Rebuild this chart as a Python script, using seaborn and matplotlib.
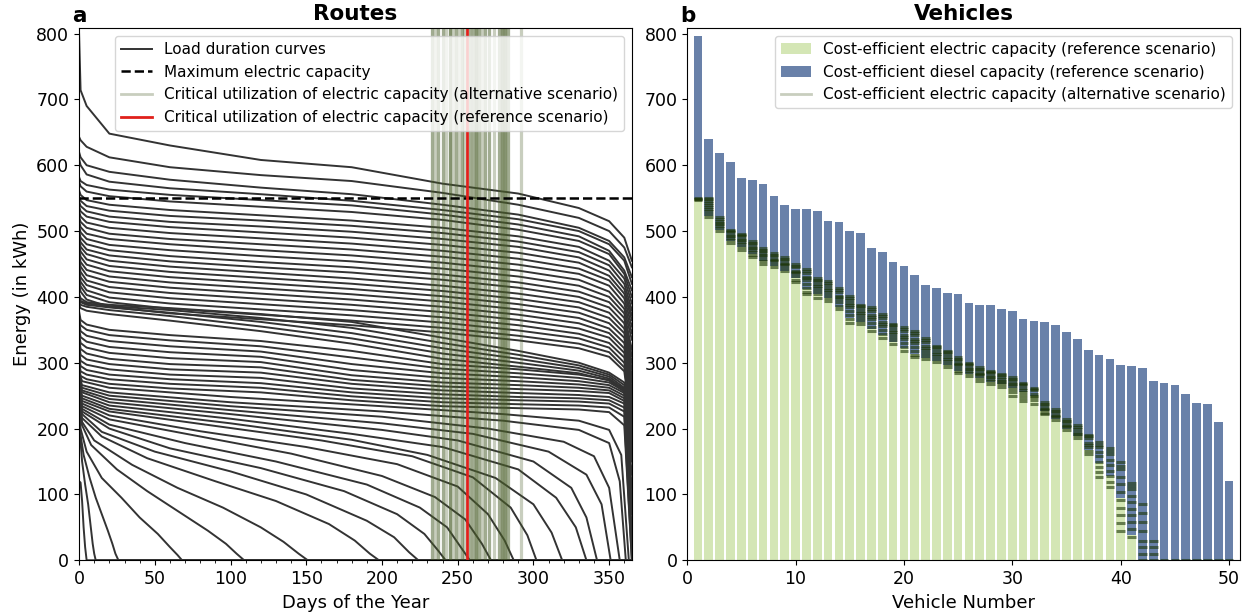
import numpy as np
import pandas as pd
import matplotlib
matplotlib.use("Agg")
import matplotlib.pyplot as plt
from matplotlib.lines import Line2D
from matplotlib.patches import Patch
from matplotlib.ticker import MultipleLocator
import seaborn as sns

# ---------------- panel a: load duration curves (energy read at these days) ----------------
DAYS = [0, 1, 5, 20, 60, 120, 180, 240, 290, 330, 350, 360, 365]

UPPER_ROUTES = [
    [800, 714, 690, 648, 630, 608, 597, 572, 557, 535, 515, 490, 455],
    [643, 638, 628, 612, 597, 585, 576, 558, 540, 520, 500, 475, 445],
    [620, 612, 600, 590, 578, 566, 556, 540, 525, 505, 485, 460, 430],
    [610, 600, 586, 575, 565, 556, 546, 532, 518, 500, 480, 455, 420],
    [582, 576, 570, 563, 555, 547, 539, 525, 510, 492, 470, 440, 410],
    [575, 568, 560, 553, 545, 537, 529, 517, 502, 485, 465, 435, 400],
    [562, 555, 547, 540, 532, 524, 516, 505, 492, 476, 455, 428, 390],
    [553, 546, 538, 531, 523, 516, 508, 497, 484, 468, 448, 420, 380],
    [545, 538, 530, 522, 514, 507, 499, 488, 476, 460, 440, 412, 372],
    [538, 530, 522, 514, 506, 498, 490, 479, 467, 452, 432, 405, 365],
    [530, 522, 513, 505, 497, 489, 481, 470, 458, 443, 425, 398, 355],
    [522, 514, 505, 496, 488, 480, 472, 461, 449, 435, 417, 390, 345],
    [515, 506, 496, 488, 480, 471, 463, 452, 440, 426, 408, 382, 335],
    [508, 498, 488, 479, 471, 462, 454, 443, 431, 417, 400, 375, 320],
    [500, 490, 480, 471, 462, 453, 445, 434, 422, 408, 392, 368, 310],
    [494, 483, 472, 463, 454, 445, 437, 426, 414, 400, 384, 360, 300],
    [487, 476, 465, 455, 446, 437, 428, 417, 405, 392, 376, 352, 290],
    [480, 469, 457, 447, 438, 429, 420, 409, 397, 384, 368, 345, 280],
    [472, 461, 449, 439, 430, 421, 412, 401, 389, 376, 360, 338, 270],
    [465, 453, 441, 431, 422, 413, 404, 393, 381, 368, 352, 330, 260],
    [458, 446, 433, 423, 414, 405, 396, 385, 373, 360, 345, 322, 250],
    [450, 438, 425, 415, 406, 397, 388, 377, 365, 352, 338, 315, 240],
    [443, 430, 418, 407, 398, 389, 380, 369, 357, 344, 330, 308, 230],
    [436, 423, 410, 399, 390, 381, 372, 361, 349, 337, 323, 300, 220],
    [428, 416, 403, 392, 382, 373, 364, 353, 341, 329, 316, 293, 210],
    [420, 408, 396, 385, 375, 366, 357, 346, 334, 322, 309, 287, 200],
    [405, 398, 392, 388, 383, 374, 362, 338, 318, 300, 285, 270, 230],
    [400, 394, 390, 386, 380, 368, 353, 330, 312, 296, 282, 266, 210],
    [396, 392, 388, 384, 376, 362, 345, 322, 306, 292, 279, 262, 190],
    [392, 388, 385, 380, 371, 355, 337, 314, 300, 288, 276, 259, 170],
    [388, 383, 379, 374, 364, 348, 329, 306, 294, 284, 273, 256, 150],
    [378, 365, 358, 350, 342, 333, 318, 298, 290, 282, 274, 260, 200],
    [370, 357, 350, 342, 334, 325, 308, 291, 284, 277, 270, 257, 180],
    [362, 348, 341, 333, 325, 317, 298, 284, 278, 272, 266, 254, 160],
    [352, 339, 332, 324, 316, 309, 289, 277, 272, 267, 262, 250, 130],
    [345, 330, 323, 315, 307, 301, 281, 270, 266, 262, 258, 246, 110],
    [338, 321, 314, 306, 298, 293, 274, 264, 260, 257, 254, 242, 90],
    [330, 312, 305, 298, 290, 285, 268, 258, 254, 251, 248, 238, 70],
    [318, 303, 297, 290, 282, 277, 261, 252, 248, 246, 243, 232, 45],
    [310, 295, 289, 282, 275, 269, 255, 246, 243, 241, 238, 226, 20],
    [302, 287, 282, 275, 268, 262, 249, 240, 237, 235, 232, 218, 0],
    [295, 280, 275, 268, 261, 255, 243, 234, 231, 229, 225, 205, 0],
]

# routes whose demand drops to zero before the end of the year
LOWER_DAYS = [
    [0, 2, 20, 100, 200, 280, 330, 350, 358, 363],
    [0, 2, 20, 100, 200, 280, 330, 350, 357, 361],
    [0, 2, 20, 100, 200, 270, 320, 340, 350, 357],
    [0, 2, 20, 100, 200, 260, 310, 335, 345, 351],
    [0, 2, 20, 100, 200, 250, 300, 325, 335, 342],
    [0, 2, 20, 100, 180, 240, 290, 315, 328, 335],
    [0, 2, 20, 100, 180, 230, 275, 300, 312, 319],
    [0, 2, 20, 90, 160, 220, 260, 285, 296, 302],
    [0, 2, 20, 80, 150, 210, 250, 270, 281, 287],
    [0, 2, 20, 80, 140, 200, 235, 255, 266, 272],
    [0, 2, 20, 70, 130, 190, 225, 243, 252, 258],
    [0, 2, 20, 60, 120, 175, 210, 228, 237, 242],
    [0, 2, 15, 50, 100, 150, 190, 208, 218, 224],
    [0, 2, 15, 45, 90, 130, 165, 182, 192, 198],
    [0, 2, 10, 35, 65, 95, 120, 135, 145, 151],
    [0, 2, 8, 25, 45, 65, 85, 97, 104, 109],
    [0, 1, 5, 15, 28, 40, 52, 60, 65, 68],
    [0, 1, 3, 7, 11, 15, 19, 22, 24, 26],
    [0, 1, 2, 4, 6, 7, 8, 9, 10, 11],
    [0, 1, 2, 3, 4, 5],
]
LOWER_ROUTES = [
    [285, 272, 262, 248, 234, 222, 212, 198, 160, 0],
    [280, 266, 255, 240, 226, 212, 198, 178, 120, 0],
    [276, 262, 250, 234, 218, 200, 180, 158, 110, 0],
    [273, 258, 245, 228, 208, 192, 165, 130, 85, 0],
    [270, 255, 240, 222, 198, 182, 150, 110, 65, 0],
    [268, 250, 235, 215, 192, 172, 138, 95, 50, 0],
    [265, 246, 230, 208, 183, 160, 125, 85, 42, 0],
    [262, 242, 226, 204, 182, 158, 126, 80, 38, 0],
    [260, 238, 220, 196, 172, 146, 112, 70, 30, 0],
    [258, 234, 214, 188, 162, 128, 96, 62, 25, 0],
    [255, 230, 206, 178, 150, 115, 80, 50, 20, 0],
    [252, 226, 200, 170, 140, 105, 70, 40, 15, 0],
    [248, 222, 195, 165, 135, 100, 60, 35, 12, 0],
    [244, 216, 188, 155, 120, 90, 55, 30, 10, 0],
    [240, 210, 182, 145, 110, 80, 50, 28, 10, 0],
    [236, 205, 175, 138, 105, 75, 45, 25, 10, 0],
    [232, 200, 165, 125, 95, 65, 40, 20, 8, 0],
    [225, 190, 160, 125, 95, 70, 45, 25, 10, 0],
    [215, 180, 150, 115, 85, 65, 45, 25, 10, 0],
    [120, 118, 90, 50, 20, 0],
]

MAX_ELECTRIC = 550
CRIT_DAY_REF = 256
CRIT_DAYS_ALT = [233, 233, 235, 237, 237, 240, 240, 242, 245, 245, 245, 247, 249,
                 249, 251, 253, 253, 254, 258, 258, 260, 260, 262, 262, 262, 264,
                 264, 266, 268, 268, 271, 271, 274, 277, 277, 279, 279, 279, 281,
                 281, 281, 283, 283, 292]

# ---------------- panel b: vehicles ----------------
VEHICLES = list(range(1, 51))
TOTAL_CAP = [797, 640, 618, 605, 580, 577, 572, 554, 540, 533,
             533, 530, 515, 514, 500, 497, 474, 468, 453, 447,
             433, 418, 414, 406, 405, 391, 388, 388, 382, 379,
             367, 364, 362, 358, 347, 336, 320, 312, 305, 297,
             295, 292, 273, 270, 266, 253, 239, 238, 210, 121]
ELEC_CAP = [548, 523, 502, 485, 476, 465, 455, 447, 440, 428,
            412, 405, 398, 385, 368, 362, 352, 342, 332, 322,
            313, 307, 303, 296, 288, 283, 277, 271, 267, 262,
            256, 249, 226, 215, 200, 188, 168, 148, 128, 95,
            38, 0, 0, 0, 0, 0, 0, 0, 0, 0]
ALT_LEVELS = [
    [550, 549, 548, 547],
    [550, 548, 546, 542, 540, 536, 534, 530, 526, 522],
    [521, 518, 516, 512, 510, 508, 504, 500],
    [502, 500, 498, 494, 492, 490, 486, 482],
    [496, 494, 492, 488, 486, 484, 480, 476, 472],
    [485, 482, 480, 476, 474, 472, 468, 464, 460],
    [475, 472, 470, 466, 464, 462, 458, 454, 450],
    [467, 464, 462, 458, 456, 454, 450, 446],
    [460, 458, 456, 452, 450, 448, 444, 440],
    [450, 447, 445, 440, 438, 436, 432, 426, 422],
    [442, 439, 436, 430, 428, 425, 420, 414, 408, 404],
    [429, 426, 424, 419, 416, 414, 409, 404, 399],
    [424, 421, 418, 413, 410, 408, 403, 398, 394],
    [414, 411, 408, 402, 400, 397, 392, 386, 381],
    [402, 399, 396, 390, 387, 384, 378, 372, 366, 361],
    [388, 386, 383, 378, 375, 373, 368, 363, 359],
    [384, 381, 378, 372, 369, 366, 360, 354, 348],
    [374, 371, 368, 362, 359, 356, 350, 344, 338],
    [359, 357, 354, 349, 346, 344, 339, 334, 329],
    [354, 351, 348, 342, 339, 336, 330, 324, 318],
    [348, 345, 342, 336, 333, 330, 324, 318, 312, 308],
    [338, 335, 332, 326, 323, 320, 315, 310, 305],
    [326, 324, 321, 316, 314, 311, 306, 301],
    [318, 316, 313, 308, 306, 303, 298, 293],
    [308, 306, 304, 300, 298, 296, 292, 288, 285],
    [300, 298, 296, 292, 290, 288, 284, 280],
    [293, 291, 289, 285, 283, 281, 277, 273],
    [288, 286, 284, 280, 278, 276, 272, 268],
    [283, 281, 279, 275, 273, 271, 267, 263],
    [278, 276, 274, 270, 267, 265, 260, 255, 250],
    [270, 268, 266, 261, 258, 256, 251, 246, 242],
    [262, 260, 258, 253, 250, 248, 243, 238],
    [240, 238, 236, 232, 230, 228, 224, 222],
    [229, 227, 225, 221, 219, 217, 213],
    [214, 212, 210, 206, 204, 202, 198],
    [206, 203, 200, 195, 192, 190, 185],
    [191, 188, 185, 178, 175, 172, 166, 161],
    [179, 175, 172, 165, 158, 150, 142, 134, 126],
    [171, 166, 162, 153, 145, 136, 128, 119, 111],
    [149, 143, 138, 127, 116, 104, 92, 80, 68, 56, 45],
    [118, 113, 108, 98, 88, 78, 68, 58, 48, 35],
    [86, 72, 58, 45, 30, 20, 10, 0],
    [30, 20, 10, 0],
    [0], [0], [0], [0], [0], [0], [0],
]

CURVE_COLOR = "#333333"
ALT_COLOR = "#4a5e2a"
RED = "#e0201b"
GREEN = "#d4e6b5"
BLUE = "#6981a9"

rows = []
for i, vals in enumerate(UPPER_ROUTES):
    for d, v in zip(DAYS, vals):
        rows.append((i, d, v))
for j, (days, vals) in enumerate(zip(LOWER_DAYS, LOWER_ROUTES)):
    for d, v in zip(days + [365], vals + [0]):
        rows.append((100 + j, d, v))
routes = pd.DataFrame(rows, columns=["route", "day", "energy"])

fig, (ax1, ax2) = plt.subplots(1, 2, figsize=(12.55, 6.15), dpi=100)
fig.subplots_adjust(left=0.063, right=0.988, bottom=0.089, top=0.954, wspace=0.1)

# ---- panel a ----
sns.lineplot(data=routes, x="day", y="energy", units="route", estimator=None, sort=False,
             color=CURVE_COLOR, linewidth=1.4, legend=False, ax=ax1)
for d in CRIT_DAYS_ALT:
    ax1.axvline(d, color=ALT_COLOR, alpha=0.3, lw=2.3)
ax1.axhline(MAX_ELECTRIC, color="black", ls="--", lw=1.8)
ax1.axvline(CRIT_DAY_REF, color=RED, lw=2)

ax1.set_xlim(0, 365)
ax1.set_ylim(0, 808)
ax1.xaxis.set_minor_locator(MultipleLocator(10))
ax1.set_xlabel("Days of the Year", fontsize=13)
ax1.set_ylabel("Energy (in kWh)", fontsize=13)
ax1.set_title("Routes", fontsize=15.5, fontweight="bold")
ax1.text(-0.012, 1.005, "a", transform=ax1.transAxes, fontsize=15.5, fontweight="bold",
         ha="left", va="bottom")
ax1.tick_params(labelsize=12.5)
handles_a = [
    Line2D([], [], color=CURVE_COLOR, lw=1.4),
    Line2D([], [], color="black", ls="--", lw=1.8),
    Line2D([], [], color=ALT_COLOR, alpha=0.3, lw=2),
    Line2D([], [], color=RED, lw=2),
]
labels_a = [
    "Load duration curves",
    "Maximum electric capacity",
    "Critical utilization of electric capacity (alternative scenario)",
    "Critical utilization of electric capacity (reference scenario)",
]
ax1.legend(handles_a, labels_a, loc="upper right", fontsize=11)

# ---- panel b ----
sns.barplot(x=VEHICLES, y=TOTAL_CAP, native_scale=True, color=BLUE, saturation=1,
            width=0.8, errorbar=None, ax=ax2)
sns.barplot(x=VEHICLES, y=ELEC_CAP, native_scale=True, color=GREEN, saturation=1,
            width=0.8, errorbar=None, ax=ax2)
for v, levels in zip(VEHICLES, ALT_LEVELS):
    ax2.hlines(levels, v - 0.4, v + 0.4, colors="#1c3506", alpha=0.6, lw=2.2)

ax2.set_xlim(0, 51)
ax2.set_ylim(0, 808)
ax2.set_xticks([0, 10, 20, 30, 40, 50])
ax2.set_xlabel("Vehicle Number", fontsize=13)
ax2.set_ylabel("")
ax2.set_title("Vehicles", fontsize=15.5, fontweight="bold")
ax2.text(-0.012, 1.005, "b", transform=ax2.transAxes, fontsize=15.5, fontweight="bold",
         ha="left", va="bottom")
ax2.tick_params(labelsize=12.5)
handles_b = [
    Patch(facecolor=GREEN),
    Patch(facecolor=BLUE),
    Line2D([], [], color=ALT_COLOR, alpha=0.3, lw=2),
]
labels_b = [
    "Cost-efficient electric capacity (reference scenario)",
    "Cost-efficient diesel capacity (reference scenario)",
    "Cost-efficient electric capacity (alternative scenario)",
]
ax2.legend(handles_b, labels_b, loc="upper right", fontsize=11)

fig.savefig("out.png", dpi=100)
